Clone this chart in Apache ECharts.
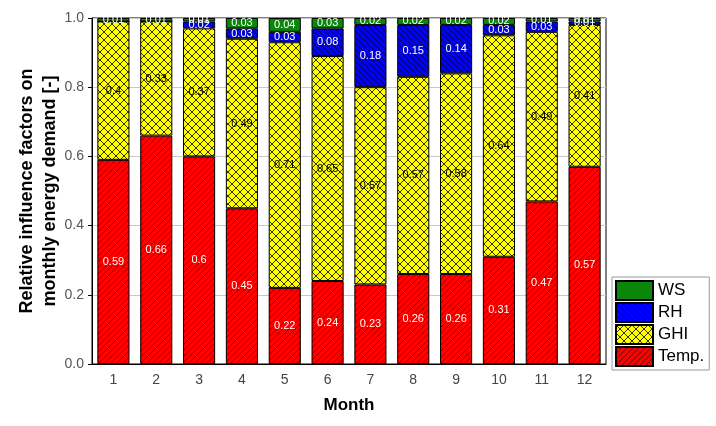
<!DOCTYPE html>
<html>
<head>
<meta charset="utf-8">
<script src="https://cdn.jsdelivr.net/npm/echarts@6/dist/echarts.min.js"></script>
<style>html,body{margin:0;padding:0;background:#fff}#c{width:716px;height:426px}</style>
</head>
<body>
<div id="c"></div>
<script>
var months = ['1','2','3','4','5','6','7','8','9','10','11','12'];
var temp = [0.59,0.66,0.6,0.45,0.22,0.24,0.23,0.26,0.26,0.31,0.47,0.57];
var ghi  = [0.4,0.33,0.37,0.49,0.71,0.65,0.57,0.57,0.58,0.64,0.49,0.41];
var rh   = [0,0,0.02,0.03,0.03,0.08,0.18,0.15,0.14,0.03,0.03,0.01];
var ws   = [0.01,0.01,0.01,0.03,0.04,0.03,0.02,0.02,0.02,0.02,0.01,0.01];

function pattern(bg, lineColor, p, dirs, lw){
  var c = document.createElement('canvas');
  c.width = p; c.height = p;
  var g = c.getContext('2d');
  g.fillStyle = bg; g.fillRect(0,0,p,p);
  g.strokeStyle = lineColor; g.lineWidth = lw;
  dirs.forEach(function(d){
    g.beginPath();
    if (d === '/') {
      g.moveTo(-1,p+1); g.lineTo(p+1,-1);
      g.moveTo(-1,1); g.lineTo(1,-1);
      g.moveTo(p-1,p+1); g.lineTo(p+1,p-1);
    } else {
      g.moveTo(-1,-1); g.lineTo(p+1,p+1);
      g.moveTo(p-1,-1); g.lineTo(p+1,1);
      g.moveTo(-1,p-1); g.lineTo(1,p+1);
    }
    g.stroke();
  });
  return {image: c, repeat: 'repeat'};
}

var redPat = pattern('#ff0000', '#8a0000', 6, ['/'], 1);
var yelPat = pattern('#ffff00', '#333300', 8, ['/','\\'], 1);
var bluPat = pattern('#0000ff', '#00007a', 6, ['\\'], 1);

var lbl = function(color){
  return {show:true, position:'inside', color:color, fontSize:11, fontFamily:'Liberation Sans, Arial',
    formatter:function(p){ return p.value ? String(p.value) : ''; }};
};
var common = {type:'bar', stack:'s', barCategoryGap:'25%'};
var chart = echarts.init(document.getElementById('c'));
chart.setOption({
  animation:false,
  textStyle:{fontFamily:'Liberation Sans, Arial'},
  grid:{left:92, right:110, top:18, bottom:62, show:true, borderColor:'#000', borderWidth:1},
  legend:{
    data:['WS','RH','GHI','Temp.'], orient:'vertical', left:612, top:277,
    itemWidth:37, itemHeight:19, itemGap:1, padding:[3,5,3,3],
    borderColor:'#999', borderWidth:1, icon:'rect',
    textStyle:{fontSize:17, color:'#000', fontFamily:'Liberation Sans, Arial', lineHeight:19}
  },
  xAxis:{type:'category', data:months,
    axisLine:{lineStyle:{color:'#000'}}, axisTick:{show:false},
    axisLabel:{fontSize:14, color:'#444', margin:9},
    name:'Month', nameLocation:'middle', nameGap:33, nameMoveOverlap:false,
    nameTextStyle:{fontSize:17, fontWeight:'bold', color:'#000'}},
  yAxis:{type:'value', min:0, max:1, interval:0.2,
    axisLine:{show:true, lineStyle:{color:'#000'}},
    axisTick:{show:true, length:4, lineStyle:{color:'#000'}},
    splitLine:{show:true, lineStyle:{color:'#c8c8c8'}},
    axisLabel:{fontSize:14, color:'#555', margin:8, formatter:function(v){return v.toFixed(1);}},
    name:'Relative influence factors on\nmonthly energy demand [-]', nameLocation:'middle', nameGap:30, nameMoveOverlap:false,
    nameTextStyle:{fontSize:18, fontWeight:'bold', color:'#000', lineHeight:23}},
  series:[
    Object.assign({name:'Temp.', data:temp, itemStyle:{color:redPat, borderColor:'#000', borderWidth:1}, label:lbl('#fff')}, common),
    Object.assign({name:'GHI', data:ghi, itemStyle:{color:yelPat, borderColor:'#000', borderWidth:1}, label:lbl('#000')}, common),
    Object.assign({name:'RH', data:rh, itemStyle:{color:bluPat, borderColor:'#000', borderWidth:1}, label:lbl('#fff')}, common),
    Object.assign({name:'WS', data:ws, itemStyle:{color:'#0a870a', borderColor:'#000', borderWidth:1}, label:lbl('#fff')}, common)
  ]
});
</script>
</body>
</html>
